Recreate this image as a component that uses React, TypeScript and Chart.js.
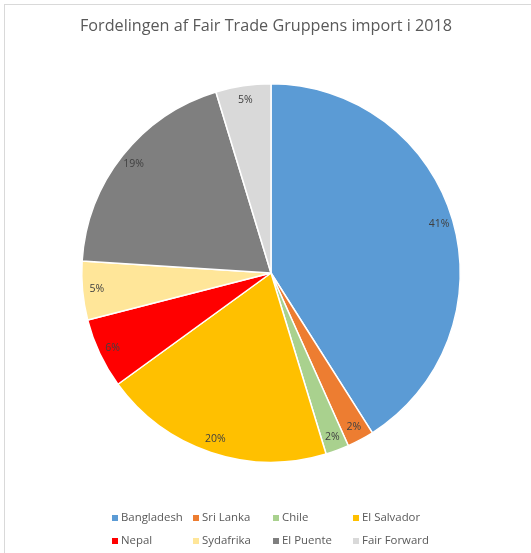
import React, { useEffect, useRef } from "react";
import { Chart, registerables } from "chart.js";

Chart.register(...registerables);

const TITLE = "Fordelingen af Fair Trade Gruppens import i 2018";
const categories = ["Bangladesh", "Sri Lanka", "Chile", "El Salvador", "Nepal", "Sydafrika", "El Puente", "Fair Forward"];
const shares = [41.0, 2.3, 2.0, 19.7, 6.0, 5.0, 19.3, 4.7];
const colors = ["#5B9BD5", "#ED7D31", "#A9D18E", "#FFC000", "#FF0000", "#FFE699", "#7F7F7F", "#D9D9D9"];
// legend grid: 4 columns, 2 rows
const legendCols = [112, 193, 273, 353];
const legendRows = [518, 541];

const FONT = "'Open Sans', 'Liberation Sans', sans-serif";

const overlayPlugin = {
  id: "overlay",
  afterDraw(chart: any) {
    const ctx = chart.ctx as CanvasRenderingContext2D;
    ctx.save();
    // title
    ctx.fillStyle = "#595959";
    ctx.font = `16.2px ${FONT}`;
    ctx.textAlign = "center";
    ctx.textBaseline = "middle";
    ctx.fillText(TITLE, 266, 26);

    // percentage labels
    const meta = chart.getDatasetMeta(0);
    const data = chart.data.datasets[0].data as number[];
    const total = data.reduce((a, b) => a + b, 0);
    ctx.font = `10.5px ${FONT}`;
    ctx.fillStyle = "#404040";
    meta.data.forEach((arc: any, i: number) => {
      const { x, y, startAngle, endAngle, outerRadius } = arc.getProps(["x", "y", "startAngle", "endAngle", "outerRadius"], true);
      const mid = (startAngle + endAngle) / 2;
      const r = outerRadius * 0.925;
      const pct = Math.round((data[i] / total) * 100) + "%";
      ctx.fillText(pct, x + Math.cos(mid) * r, y + Math.sin(mid) * r);
    });

    // legend
    ctx.font = `11.4px ${FONT}`;
    ctx.textAlign = "left";
    categories.forEach((name, i) => {
      const cx = legendCols[i % 4];
      const cy = legendRows[Math.floor(i / 4)];
      ctx.fillStyle = colors[i];
      ctx.fillRect(cx, cy - 3, 6, 6);
      ctx.fillStyle = "#595959";
      ctx.fillText(name, cx + 9, cy);
    });
    ctx.restore();
  },
};

export default function App() {
  const ref = useRef<HTMLCanvasElement | null>(null);
  useEffect(() => {
    if (!ref.current) return;
    const chart = new Chart(ref.current, {
      type: "pie",
      data: {
        labels: categories,
        datasets: [
          {
            data: shares,
            backgroundColor: colors,
            borderColor: "#FFFFFF",
            borderWidth: 1.5,
            hoverOffset: 0,
          },
        ],
      },
      options: {
        responsive: false,
        animation: false,
        layout: { padding: { left: 81, right: 70, top: 83, bottom: 90 } },
        plugins: {
          legend: { display: false },
          title: { display: false },
          tooltip: { enabled: false },
        },
      },
      plugins: [overlayPlugin],
    });
    return () => chart.destroy();
  }, []);

  return (
    <div style={{ position: "absolute", left: 0, top: 0, width: 531, height: 553, background: "#fff", overflow: "hidden" }}>
      <div
        style={{
          position: "absolute",
          left: 4,
          top: 4,
          width: 600,
          height: 600,
          borderLeft: "1.5px solid #D9D9D9",
          borderTop: "1.5px solid #D9D9D9",
        }}
      />
      <canvas ref={ref} width={531} height={553} style={{ position: "absolute", left: 0, top: 0, width: 531, height: 553 }} />
    </div>
  );
}
